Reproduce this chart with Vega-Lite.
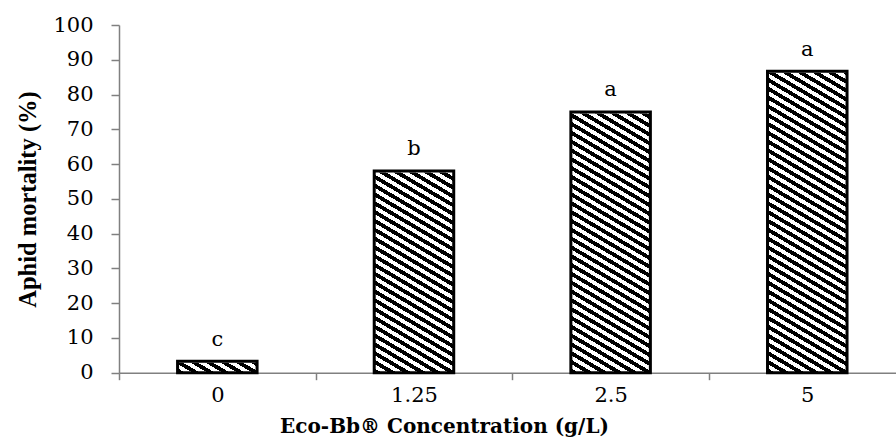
{
  "$schema": "https://vega.github.io/schema/vega-lite/v6.json",
  "width": 777,
  "height": 347.7,
  "autosize": {"type": "none"},
  "padding": {"left": 119, "top": 25, "right": 0, "bottom": 64.3},
  "background": "white",
  "config": {"view": {"stroke": null}, "font": "DejaVu Serif"},
  "data": {
    "values": [
      {"conc": "0", "mortality": 3.3, "letter": "c"},
      {"conc": "1.25", "mortality": 58, "letter": "b"},
      {"conc": "2.5", "mortality": 75, "letter": "a"},
      {"conc": "5", "mortality": 86.7, "letter": "a"}
    ]
  },
  "encoding": {
    "x": {
      "field": "conc",
      "type": "nominal",
      "sort": null,
      "scale": {"type": "band", "paddingInner": 0, "paddingOuter": 0, "range": [0, 786.6]},
      "axis": {
        "title": "Eco-Bb® Concentration (g/L)",
        "labelAngle": 0,
        "labelOverlap": false,
        "tickBand": "extent",
        "tickSize": 7,
        "tickColor": "#808080",
        "tickWidth": 1.5,
        "domainColor": "#808080",
        "domainWidth": 1.5,
        "grid": false,
        "labelFont": "DejaVu Serif",
        "labelFontSize": 21,
        "labelColor": "#000",
        "labelBaseline": "alphabetic",
        "labelPadding": 22,
        "titleFont": "DejaVu Serif",
        "titleFontSize": 20,
        "titleFontWeight": "bold",
        "titleColor": "#000",
        "titleX": 325,
        "titleY": 60,
        "titleBaseline": "alphabetic",
        "titleAlign": "center"
      }
    }
  },
  "layer": [
    {
      "mark": {
        "type": "bar",
        "width": {"band": 0.4043},
        "fill": {
          "gradient": "linear",
          "x1": 0, "y1": 1, "x2": 0.17205, "y2": -0.12646,
          "stops": [
            {"offset":0,"color":"#000"},{"offset":0.0125,"color":"#000"},{"offset":0.0125,"color":"#fff"},{"offset":0.025,"color":"#fff"},
            {"offset":0.025,"color":"#000"},{"offset":0.0375,"color":"#000"},{"offset":0.0375,"color":"#fff"},{"offset":0.05,"color":"#fff"},
            {"offset":0.05,"color":"#000"},{"offset":0.0625,"color":"#000"},{"offset":0.0625,"color":"#fff"},{"offset":0.075,"color":"#fff"},
            {"offset":0.075,"color":"#000"},{"offset":0.0875,"color":"#000"},{"offset":0.0875,"color":"#fff"},{"offset":0.1,"color":"#fff"},
            {"offset":0.1,"color":"#000"},{"offset":0.1125,"color":"#000"},{"offset":0.1125,"color":"#fff"},{"offset":0.125,"color":"#fff"},
            {"offset":0.125,"color":"#000"},{"offset":0.1375,"color":"#000"},{"offset":0.1375,"color":"#fff"},{"offset":0.15,"color":"#fff"},
            {"offset":0.15,"color":"#000"},{"offset":0.1625,"color":"#000"},{"offset":0.1625,"color":"#fff"},{"offset":0.175,"color":"#fff"},
            {"offset":0.175,"color":"#000"},{"offset":0.1875,"color":"#000"},{"offset":0.1875,"color":"#fff"},{"offset":0.2,"color":"#fff"},
            {"offset":0.2,"color":"#000"},{"offset":0.2125,"color":"#000"},{"offset":0.2125,"color":"#fff"},{"offset":0.225,"color":"#fff"},
            {"offset":0.225,"color":"#000"},{"offset":0.2375,"color":"#000"},{"offset":0.2375,"color":"#fff"},{"offset":0.25,"color":"#fff"},
            {"offset":0.25,"color":"#000"},{"offset":0.2625,"color":"#000"},{"offset":0.2625,"color":"#fff"},{"offset":0.275,"color":"#fff"},
            {"offset":0.275,"color":"#000"},{"offset":0.2875,"color":"#000"},{"offset":0.2875,"color":"#fff"},{"offset":0.3,"color":"#fff"},
            {"offset":0.3,"color":"#000"},{"offset":0.3125,"color":"#000"},{"offset":0.3125,"color":"#fff"},{"offset":0.325,"color":"#fff"},
            {"offset":0.325,"color":"#000"},{"offset":0.3375,"color":"#000"},{"offset":0.3375,"color":"#fff"},{"offset":0.35,"color":"#fff"},
            {"offset":0.35,"color":"#000"},{"offset":0.3625,"color":"#000"},{"offset":0.3625,"color":"#fff"},{"offset":0.375,"color":"#fff"},
            {"offset":0.375,"color":"#000"},{"offset":0.3875,"color":"#000"},{"offset":0.3875,"color":"#fff"},{"offset":0.4,"color":"#fff"},
            {"offset":0.4,"color":"#000"},{"offset":0.4125,"color":"#000"},{"offset":0.4125,"color":"#fff"},{"offset":0.425,"color":"#fff"},
            {"offset":0.425,"color":"#000"},{"offset":0.4375,"color":"#000"},{"offset":0.4375,"color":"#fff"},{"offset":0.45,"color":"#fff"},
            {"offset":0.45,"color":"#000"},{"offset":0.4625,"color":"#000"},{"offset":0.4625,"color":"#fff"},{"offset":0.475,"color":"#fff"},
            {"offset":0.475,"color":"#000"},{"offset":0.4875,"color":"#000"},{"offset":0.4875,"color":"#fff"},{"offset":0.5,"color":"#fff"},
            {"offset":0.5,"color":"#000"},{"offset":0.5125,"color":"#000"},{"offset":0.5125,"color":"#fff"},{"offset":0.525,"color":"#fff"},
            {"offset":0.525,"color":"#000"},{"offset":0.5375,"color":"#000"},{"offset":0.5375,"color":"#fff"},{"offset":0.55,"color":"#fff"},
            {"offset":0.55,"color":"#000"},{"offset":0.5625,"color":"#000"},{"offset":0.5625,"color":"#fff"},{"offset":0.575,"color":"#fff"},
            {"offset":0.575,"color":"#000"},{"offset":0.5875,"color":"#000"},{"offset":0.5875,"color":"#fff"},{"offset":0.6,"color":"#fff"},
            {"offset":0.6,"color":"#000"},{"offset":0.6125,"color":"#000"},{"offset":0.6125,"color":"#fff"},{"offset":0.625,"color":"#fff"},
            {"offset":0.625,"color":"#000"},{"offset":0.6375,"color":"#000"},{"offset":0.6375,"color":"#fff"},{"offset":0.65,"color":"#fff"},
            {"offset":0.65,"color":"#000"},{"offset":0.6625,"color":"#000"},{"offset":0.6625,"color":"#fff"},{"offset":0.675,"color":"#fff"},
            {"offset":0.675,"color":"#000"},{"offset":0.6875,"color":"#000"},{"offset":0.6875,"color":"#fff"},{"offset":0.7,"color":"#fff"},
            {"offset":0.7,"color":"#000"},{"offset":0.7125,"color":"#000"},{"offset":0.7125,"color":"#fff"},{"offset":0.725,"color":"#fff"},
            {"offset":0.725,"color":"#000"},{"offset":0.7375,"color":"#000"},{"offset":0.7375,"color":"#fff"},{"offset":0.75,"color":"#fff"},
            {"offset":0.75,"color":"#000"},{"offset":0.7625,"color":"#000"},{"offset":0.7625,"color":"#fff"},{"offset":0.775,"color":"#fff"},
            {"offset":0.775,"color":"#000"},{"offset":0.7875,"color":"#000"},{"offset":0.7875,"color":"#fff"},{"offset":0.8,"color":"#fff"},
            {"offset":0.8,"color":"#000"},{"offset":0.8125,"color":"#000"},{"offset":0.8125,"color":"#fff"},{"offset":0.825,"color":"#fff"},
            {"offset":0.825,"color":"#000"},{"offset":0.8375,"color":"#000"},{"offset":0.8375,"color":"#fff"},{"offset":0.85,"color":"#fff"},
            {"offset":0.85,"color":"#000"},{"offset":0.8625,"color":"#000"},{"offset":0.8625,"color":"#fff"},{"offset":0.875,"color":"#fff"},
            {"offset":0.875,"color":"#000"},{"offset":0.8875,"color":"#000"},{"offset":0.8875,"color":"#fff"},{"offset":0.9,"color":"#fff"},
            {"offset":0.9,"color":"#000"},{"offset":0.9125,"color":"#000"},{"offset":0.9125,"color":"#fff"},{"offset":0.925,"color":"#fff"},
            {"offset":0.925,"color":"#000"},{"offset":0.9375,"color":"#000"},{"offset":0.9375,"color":"#fff"},{"offset":0.95,"color":"#fff"},
            {"offset":0.95,"color":"#000"},{"offset":0.9625,"color":"#000"},{"offset":0.9625,"color":"#fff"},{"offset":0.975,"color":"#fff"},
            {"offset":0.975,"color":"#000"},{"offset":0.9875,"color":"#000"},{"offset":0.9875,"color":"#fff"},{"offset":1,"color":"#fff"}
          ]
        }
      },
      "encoding": {
        "y": {
          "datum": 88,
          "type": "quantitative",
          "title": "Aphid mortality (%)",
          "scale": {"domain": [0, 100], "nice": false},
          "axis": {
            "title": "Aphid mortality (%)",
            "values": [0, 10, 20, 30, 40, 50, 60, 70, 80, 90, 100],
            "labelOverlap": false,
            "grid": false,
            "domainColor": "#808080",
            "domainWidth": 1.5,
            "tickColor": "#808080",
            "tickWidth": 1.5,
            "tickSize": 8,
            "labelFont": "DejaVu Serif",
            "labelFontSize": 21,
            "labelColor": "#000",
            "labelPadding": 18,
            "titleFont": "Liberation Serif",
            "titleFontSize": 24.5,
            "titleFontWeight": "bold",
            "titleColor": "#000",
            "titleAngle": -90,
            "titleX": -91,
            "titleY": 174,
            "titleBaseline": "middle",
            "titleAlign": "center"
          }
        },
        "y2": {"datum": 0}
      }
    },
    {
      "mark": {"type": "bar", "width": {"band": 0.4043}, "fill": "#fff", "stroke": "#fff", "strokeWidth": 3},
      "encoding": {
        "y": {"field": "mortality", "type": "quantitative", "title": "Aphid mortality (%)", "axis": {"values": [0, 10, 20, 30, 40, 50, 60, 70, 80, 90, 100], "labelOverlap": false}},
        "y2": {"datum": 89}
      }
    },
    {
      "mark": {"type": "bar", "width": {"band": 0.4043}, "fill": "#fff", "fillOpacity": 0, "stroke": "#000", "strokeWidth": 3},
      "encoding": {
        "y": {"field": "mortality", "type": "quantitative", "title": "Aphid mortality (%)", "axis": {"values": [0, 10, 20, 30, 40, 50, 60, 70, 80, 90, 100], "labelOverlap": false}}
      }
    },
    {
      "mark": {"type": "text", "dy": -15.6, "baseline": "alphabetic", "fontSize": 21, "font": "DejaVu Serif", "color": "#000"},
      "encoding": {
        "y": {"field": "mortality", "type": "quantitative", "title": "Aphid mortality (%)", "axis": {"values": [0, 10, 20, 30, 40, 50, 60, 70, 80, 90, 100], "labelOverlap": false}},
        "text": {"field": "letter"}
      }
    }
  ]
}
